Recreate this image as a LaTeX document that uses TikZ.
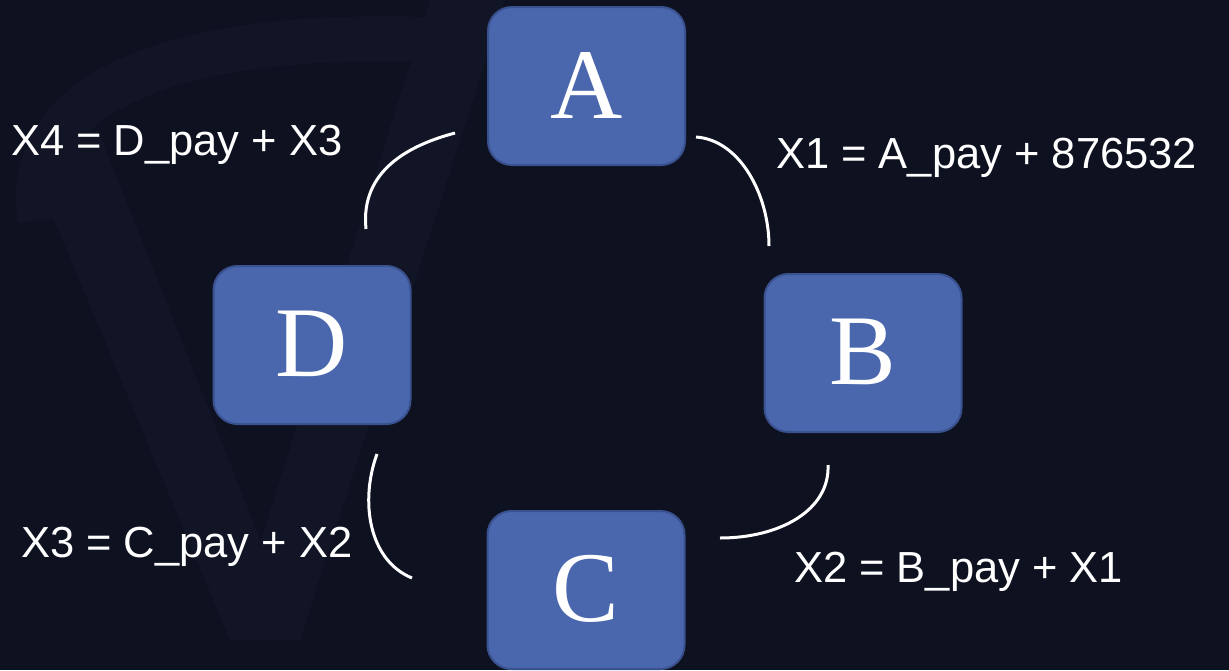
\documentclass[tikz,border=0pt]{standalone}
\usepackage{fontspec}
\setmainfont{Liberation Serif}
\newfontfamily\labelfont{Liberation Sans}
\definecolor{bg}{HTML}{0E1120}
\definecolor{boxfill}{HTML}{4A67AD}
\definecolor{boxline}{HTML}{3A5190}
\definecolor{wm}{HTML}{121526}
\begin{document}
\begin{tikzpicture}[x=1pt,y=-1pt,
  box/.style={draw=boxline, line width=2pt, fill=boxfill, rounded corners=24pt,
    minimum width=197pt, minimum height=158pt, inner sep=0pt},
  letter/.style={text=white, font=\fontsize{100}{100}\selectfont, anchor=base, inner sep=0pt},
  lbl/.style={text=white, font=\labelfont\fontsize{43.5}{44}\selectfont, anchor=base west, inner sep=0pt},
  link/.style={white, line width=3pt},
  wmark/.style={wm, line width=75pt}]
\useasboundingbox (0,0) rectangle (1229,670);
\fill[bg] (0,0) rectangle (1229,670);
% faint watermark
\begin{scope}
\clip (0,0) rectangle (1229,670);
\fill[wm] (25,150) -- (98,130) -- (300,640) -- (230,640) -- cycle;
\fill[wm] (430,0) -- (505,0) -- (300,640) -- (230,640) -- cycle;
\draw[wm, line width=45pt] (40,220) .. controls (20,80) and (200,30) .. (440,40);
\end{scope}
% boxes
\node[box] (A) at (586.5,86) {};
\node[box] (B) at (863,353) {};
\node[box] (C) at (586,590) {};
\node[box] (D) at (312,345) {};
\node[letter] (LA) at (A.center |- 0,118) {A};
\node[letter] (LB) at (B.center |- 0,384) {B};
\node[letter] (LC) at (C.center |- 0,621) {C};
\node[letter] (LD) at (D.center |- 0,376) {D};
% connector end points
\coordinate (ab1) at (696,137);
\coordinate (ab2) at (769,246);
\coordinate (bc1) at (828,465);
\coordinate (bc2) at (720,538);
\coordinate (cd1) at (412,578);
\coordinate (cd2) at (377,454);
\coordinate (da1) at (366,229);
\coordinate (da2) at (455,133);
\draw[link] (ab1) .. controls (740,140) and (769,195) .. (ab2);
\draw[link] (bc1) .. controls (830,510) and (780,538) .. (bc2);
\draw[link] (cd1) .. controls (368,560) and (360,500) .. (cd2);
\draw[link] (da1) .. controls (360,170) and (410,145) .. (da2);
% labels
\node[lbl] (L4) at (11,155.7) {X4 = D\_pay + X3};
\node[lbl] (L1) at (776,168) {X1 = A\_pay + 876532};
\node[lbl] (L3) at (21,557) {X3 = C\_pay + X2};
\node[lbl] (L2) at (794,582) {X2 = B\_pay + X1};
\end{tikzpicture}
\end{document}
